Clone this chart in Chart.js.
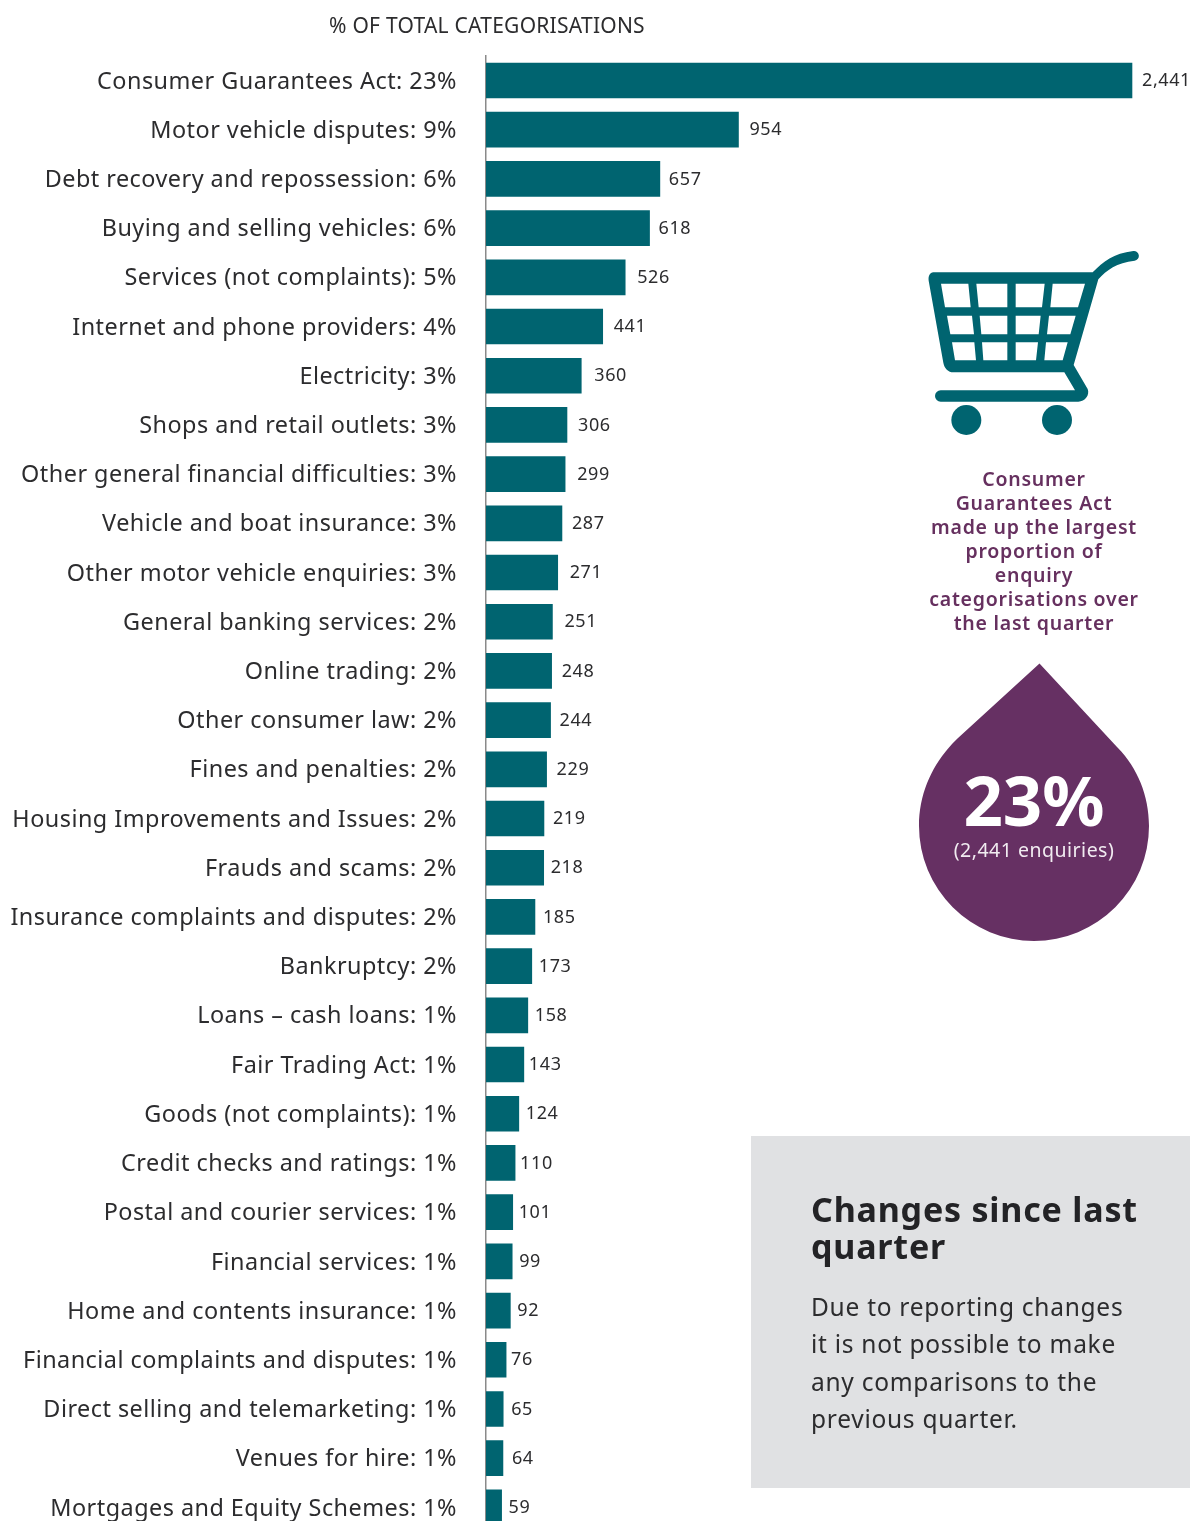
<!DOCTYPE html>
<html>
<head>
<meta charset="utf-8">
<title>Enquiry categorisations</title>
<script src="https://cdn.jsdelivr.net/npm/chart.js@4"></script>
<style>
  html, body { margin: 0; padding: 0; background: #fff; overflow: hidden; width: 1190px; height: 1521px; }
  body { position: relative; font-family: "Noto Sans", sans-serif; color: #2c2c2e; }
  #wrap { position: absolute; left: 0; top: 0; width: 1190px; height: 1575px; }
  .abs { position: absolute; white-space: nowrap; }
  #axisTitle { left: 329px; top: 10px; font-size: 21px; line-height: 30px; letter-spacing: 0.25px; }
  #note { left: 914px; width: 240px; top: 467px; text-align: center; color: #66305f; font-size: 19.5px; line-height: 24px; font-weight: 600; letter-spacing: 0.75px; }
  #pct { left: 919px; width: 230px; top: 757px; text-align: center; color: #fff; font-size: 69px; line-height: 84px; font-weight: 700; }
  #count { left: 919px; width: 230px; top: 836px; text-align: center; color: #f1ecf1; font-size: 19.5px; line-height: 28px; letter-spacing: 0.5px; }
  #box { left: 751px; top: 1136px; width: 439px; height: 352px; background: #e0e1e3; }
  #boxHead { left: 811px; top: 1191px; font-size: 34px; line-height: 37px; font-weight: 700; color: #232326; letter-spacing: 0.8px; }
  #boxText { left: 811px; top: 1288px; font-size: 24.5px; line-height: 37.3px; color: #2c2c2e; letter-spacing: 0.73px; }
</style>
</head>
<body>
<div id="box" class="abs"></div>
<div id="wrap"><canvas id="chart" width="1190" height="1575"></canvas></div>
<div id="axisTitle" class="abs">% OF TOTAL CATEGORISATIONS</div>

<svg class="abs" style="left:900px;top:240px" width="260" height="210" viewBox="0 0 780 630">
  <path fill="#006470" fill-rule="evenodd" d="M100 97H578C610 65 640 40 700 33A14 14 0 0 1 704 62C650 68 620 90 595 118L521 375L563 447C570 465 555 485 535 485H122A17 17 0 0 1 122 451H525L493 397H160C145 397 133 385 130 368L86 122C84 108 90 97 100 97Z
    M123 131H205L212 202H135Z M229 131H322V202H236Z M347 131H434L426 202H347Z M458 131H555L534 202H451Z
    M141 227H216L222 283H151Z M239 227H322V283H244Z M347 227H422L416 283H347Z M447 227H527L511 283H441Z
    M156 307H223L228 361H165Z M246 307H322V361H250Z M347 307H414L408 361H347Z M438 307H503L488 361H433Z"/>
  <circle cx="199" cy="540" r="45" fill="#006470"/>
  <circle cx="471" cy="540" r="45" fill="#006470"/>
</svg>

<div id="note" class="abs">Consumer<br>Guarantees Act<br>made up the largest<br>proportion of<br>enquiry<br>categorisations over<br>the last quarter</div>

<svg class="abs" style="left:900px;top:650px" width="270" height="300" viewBox="900 650 270 300">
  <path fill="#663063" d="M1039.5 663.5L958 738C935 760 919 790 919 826A115 115 0 0 0 1149 826C1149 795 1137 767 1117 747Z"/>
</svg>
<div id="pct" class="abs">23%</div>
<div id="count" class="abs">(2,441 enquiries)</div>

<div id="boxHead" class="abs">Changes since last<br>quarter</div>
<div id="boxText" class="abs">Due to reporting changes<br>it is not possible to make<br>any comparisons to the<br>previous quarter.</div>

<script>
const categories = [
  "Consumer Guarantees Act", "Motor vehicle disputes", "Debt recovery and repossession",
  "Buying and selling vehicles", "Services (not complaints)", "Internet and phone providers",
  "Electricity", "Shops and retail outlets", "Other general financial difficulties",
  "Vehicle and boat insurance", "Other motor vehicle enquiries", "General banking services",
  "Online trading", "Other consumer law", "Fines and penalties",
  "Housing Improvements and Issues", "Frauds and scams", "Insurance complaints and disputes",
  "Bankruptcy", "Loans – cash loans", "Fair Trading Act",
  "Goods (not complaints)", "Credit checks and ratings", "Postal and courier services",
  "Financial services", "Home and contents insurance", "Financial complaints and disputes",
  "Direct selling and telemarketing", "Venues for hire", "Mortgages and Equity Schemes"
];
const shares = [23, 9, 6, 6, 5, 4, 3, 3, 3, 3, 3, 2, 2, 2, 2, 2, 2, 2, 2, 1, 1, 1, 1, 1, 1, 1, 1, 1, 1, 1];
const enquiries = [2441, 954, 657, 618, 526, 441, 360, 306, 299, 287, 271, 251, 248, 244, 229,
                   219, 218, 185, 173, 158, 143, 124, 110, 101, 99, 92, 76, 65, 64, 59];
// Gap in pixels between each bar end and its count
const countGaps = [10, 11, 9, 9, 12, 11, 13, 11, 12, 10, 12, 12, 10, 9, 10, 9, 7, 8, 7, 7, 5, 7, 5, 6, 7, 7, 5, 8, 9, 7];

const tickLabels = categories.map((name, i) => `${name}: ${shares[i]}%`);

// Tracking for the category labels, which the scale draws with the shared context
const tickTracking = {
  id: 'tickTracking',
  beforeDraw(chart) { chart.ctx.letterSpacing = '0.48px'; }
};

// Writes each bar's count just past its end
const barCounts = {
  id: 'barCounts',
  afterDatasetsDraw(chart) {
    const { ctx } = chart;
    const bars = chart.getDatasetMeta(0).data;
    ctx.save();
    ctx.font = '18px "Noto Sans"';
    ctx.letterSpacing = '0.6px';
    ctx.fillStyle = '#2c2c2e';
    ctx.textBaseline = 'middle';
    bars.forEach((bar, i) => {
      ctx.fillText(enquiries[i].toLocaleString('en-US'), bar.x + countGaps[i], bar.y + 0.5);
    });
    ctx.restore();
  }
};

new Chart(document.getElementById('chart'), {
  type: 'bar',
  data: {
    labels: tickLabels,
    datasets: [{ data: enquiries, backgroundColor: '#006470', barThickness: 35, borderWidth: 0 }]
  },
  options: {
    indexAxis: 'y',
    responsive: false,
    animation: false,
    layout: { padding: { top: 55.9, bottom: 7, left: 0, right: 42.4 } },
    plugins: { legend: { display: false }, tooltip: { enabled: false } },
    scales: {
      x: { display: false, min: 0, max: 2500 },
      y: {
        afterFit(scale) { scale.width = 486; },
        grid: { display: false, drawTicks: false },
        border: { display: true, color: '#8a8a8a', width: 1.5 },
        ticks: {
          autoSkip: false,
          padding: 29,
          labelOffset: 1.5,
          color: '#2c2c2e',
          font: { family: '"Noto Sans"', size: 23.4 }
        }
      }
    }
  },
  plugins: [tickTracking, barCounts]
});
</script>
</body>
</html>
